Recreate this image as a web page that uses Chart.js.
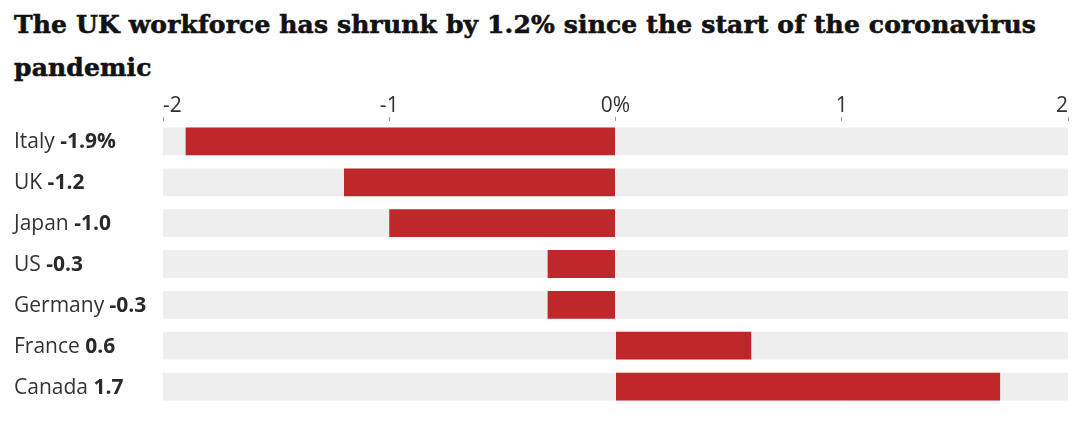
<!DOCTYPE html>
<html>
<head>
<meta charset="utf-8">
<script src="https://cdn.jsdelivr.net/npm/chart.js@4/dist/chart.umd.min.js"></script>
<style>
  html, body { margin: 0; padding: 0; background: #fff; }
  #wrap { position: relative; width: 1080px; height: 425px; overflow: hidden; }
  h1 {
    position: absolute; left: 14px; top: 3px; margin: 0; width: 1062px;
    font-family: "DejaVu Serif", serif; font-weight: bold; font-size: 25px;
    line-height: 43px; color: #121212; letter-spacing: 0.15px;
    -webkit-text-stroke: 0.6px #121212;
  }
  canvas { position: absolute; left: 0; top: 0; }
</style>
</head>
<body>
<div id="wrap">
  <h1>The UK workforce has shrunk by 1.2% since the start of the coronavirus pandemic</h1>
  <canvas id="c" width="1080" height="425"></canvas>
</div>
<script>
const countries = ['Italy', 'UK', 'Japan', 'US', 'Germany', 'France', 'Canada'];
const changes = [-1.9, -1.2, -1.0, -0.3, -0.3, 0.6, 1.7];
const valueLabels = ['-1.9%', '-1.2', '-1.0', '-0.3', '-0.3', '0.6', '1.7'];
const axisMin = -2;
const axisMax = 2;
const axisStep = 1;

const RED = '#c0272b';
const TRACK = '#eeeeee';
const LABEL_FONT = '"Open Sans", "Noto Sans", sans-serif';

const rowLabels = {
  id: 'rowLabels',
  afterDraw(chart) {
    const ctx = chart.ctx;
    const y = chart.scales.y;
    ctx.save();
    ctx.textBaseline = 'middle';
    ctx.textAlign = 'left';
    countries.forEach((name, i) => {
      const py = y.getPixelForValue(i) + 1;
      ctx.font = '21px ' + LABEL_FONT;
      ctx.fillStyle = '#333333';
      const nameText = name + ' ';
      ctx.fillText(nameText, 14, py);
      const w = ctx.measureText(nameText).width;
      ctx.font = 'bold 21px ' + LABEL_FONT;
      ctx.fillStyle = '#2a2a2a';
      ctx.fillText(valueLabels[i], 14 + w, py);
    });
    ctx.restore();
  }
};

new Chart(document.getElementById('c'), {
  type: 'bar',
  data: {
    labels: countries,
    datasets: [
      {
        data: changes,
        backgroundColor: RED,
        borderWidth: 0,
        borderSkipped: false,
        grouped: false,
        order: 0,
        barPercentage: 0.68,
        categoryPercentage: 1
      },
      {
        data: countries.map(() => [axisMin, axisMax]),
        backgroundColor: TRACK,
        borderWidth: 0,
        borderSkipped: false,
        grouped: false,
        order: 1,
        barPercentage: 0.68,
        categoryPercentage: 1
      }
    ]
  },
  options: {
    indexAxis: 'y',
    responsive: false,
    devicePixelRatio: 1,
    animation: false,
    layout: { padding: { left: 163, right: 12, top: 96, bottom: 18 } },
    plugins: { legend: { display: false }, tooltip: { enabled: false }, title: { display: false } },
    scales: {
      x: {
        type: 'linear',
        position: 'top',
        min: axisMin,
        max: axisMax,
        z: 1,
        border: { display: false },
        grid: {
          color: '#ffffff',
          lineWidth: 1,
          tickColor: '#999999',
          tickLength: 4,
          drawOnChartArea: true
        },
        ticks: {
          stepSize: axisStep,
          align: 'inner',
          padding: 0,
          color: '#333333',
          font: { family: LABEL_FONT, size: 21, lineHeight: 1 },
          callback: (v) => v === 0 ? '0%' : String(v)
        }
      },
      y: {
        type: 'category',
        display: false
      }
    }
  },
  plugins: [rowLabels]
});
</script>
</body>
</html>
